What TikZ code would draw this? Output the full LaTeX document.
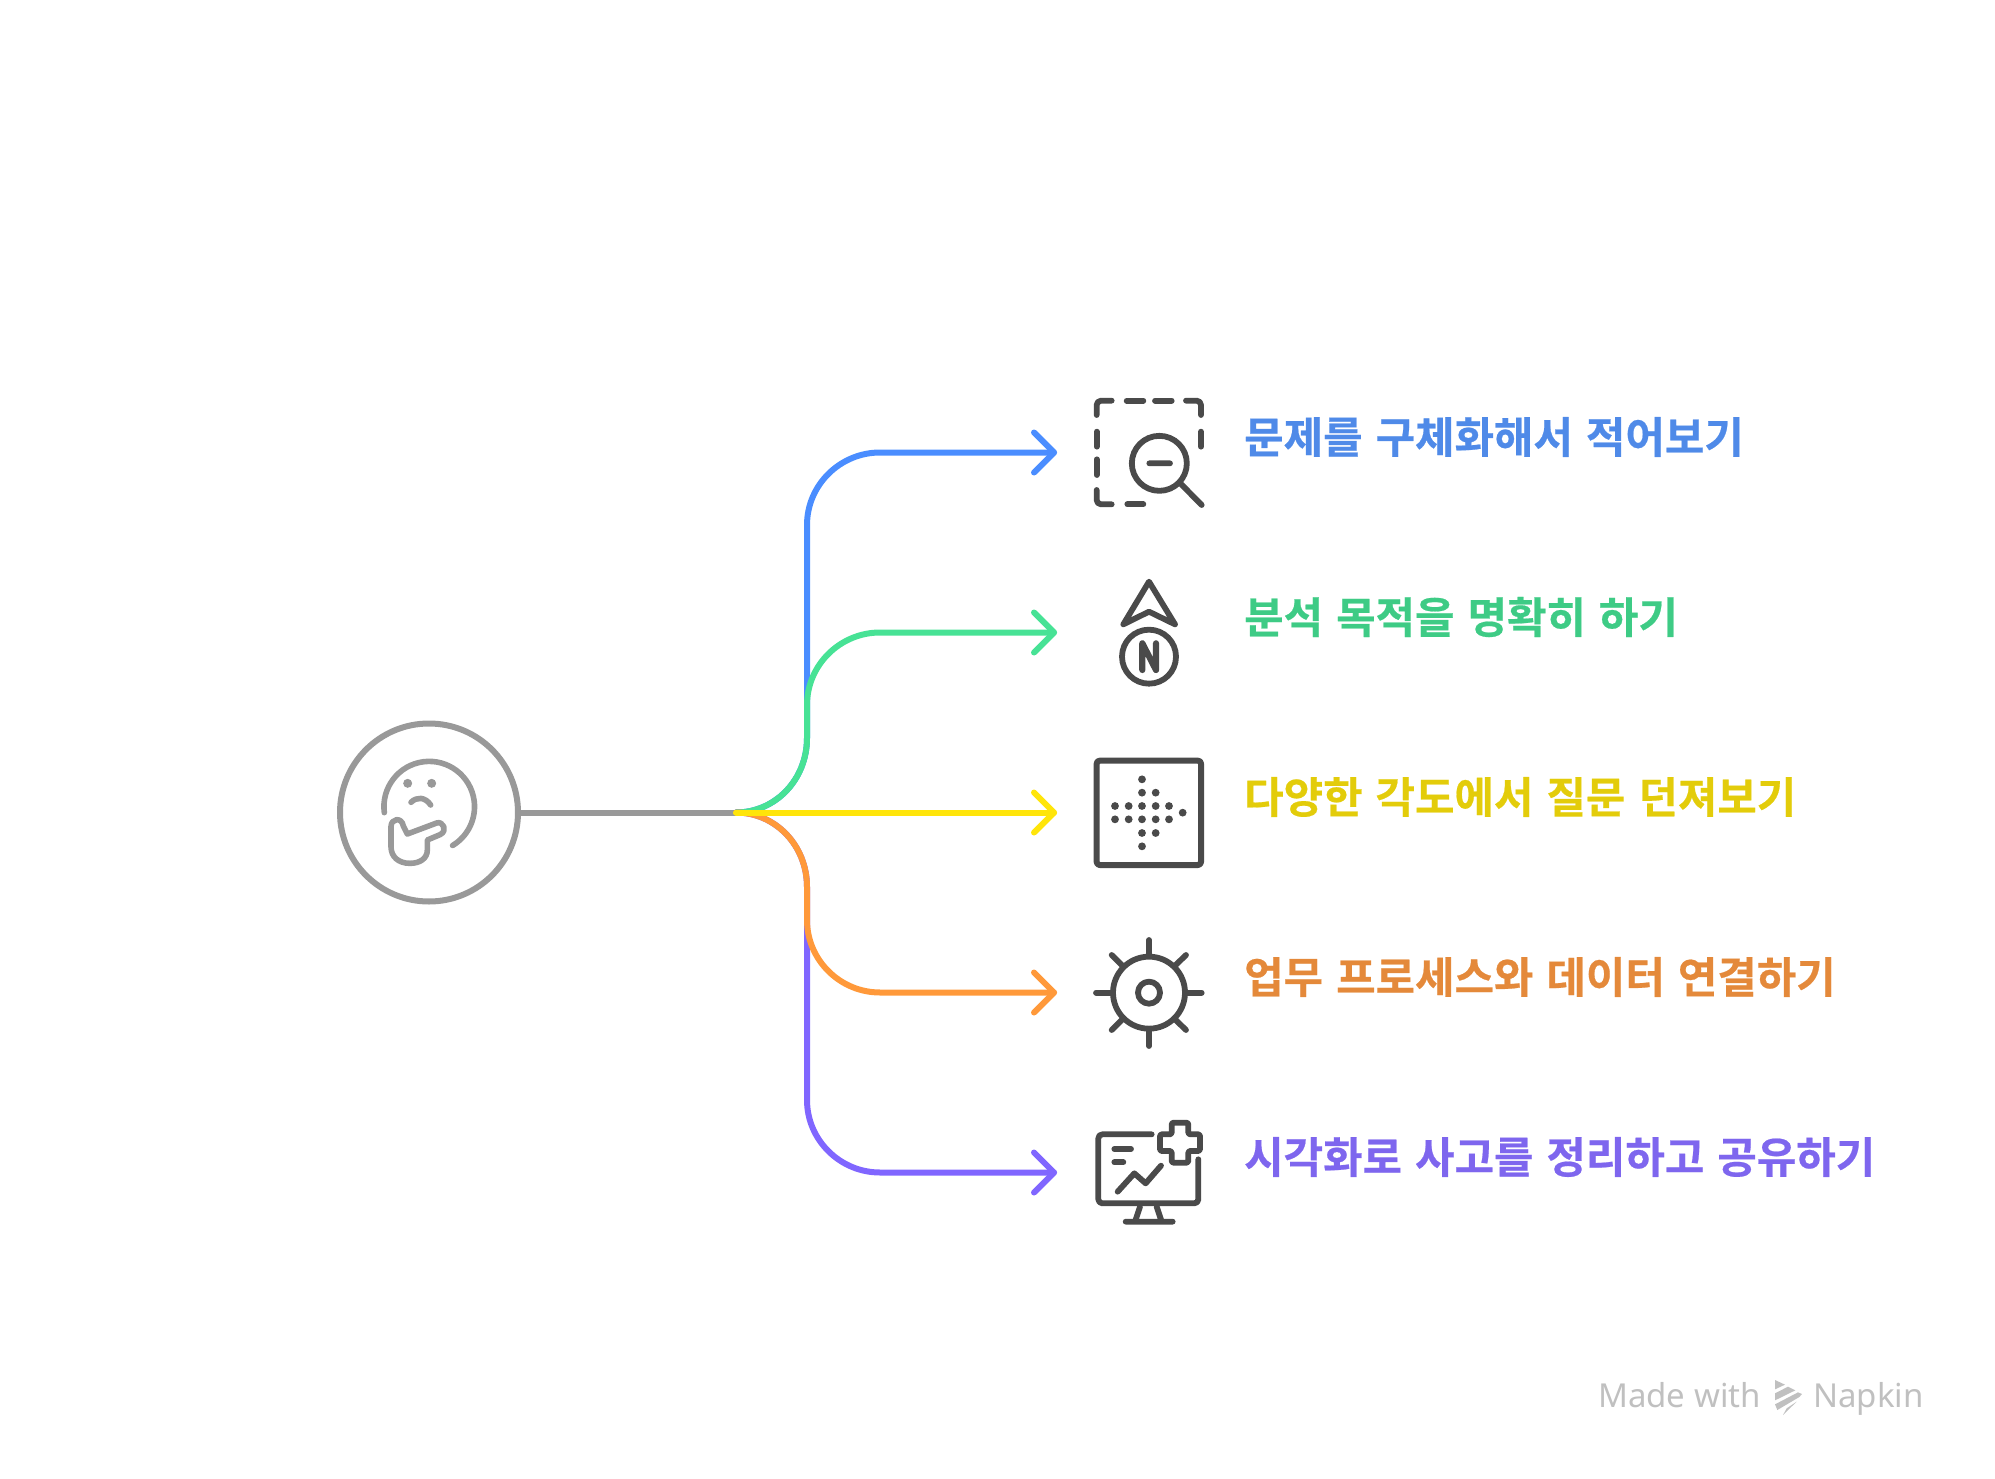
\documentclass[tikz,border=0pt]{standalone}
\usepackage{fontspec}
\setmainfont{Noto Sans}
\newfontfamily\krfont[FakeBold=0.5]{Noto Sans CJK KR Bold}
\newcommand{\krlabel}{\krfont\fontsize{42.9}{42.9}\selectfont\spaceskip=13pt\relax}
\definecolor{cgray}{HTML}{999999}
\definecolor{cicon}{HTML}{4A4A4A}
\definecolor{cblue}{HTML}{4A8DFF}
\definecolor{cgreen}{HTML}{47E295}
\definecolor{cyellow}{HTML}{FFE50A}
\definecolor{corange}{HTML}{FF993A}
\definecolor{cviolet}{HTML}{8066FF}
\definecolor{tblue}{HTML}{4F8AE8}
\definecolor{tgreen}{HTML}{3ECB85}
\definecolor{tyellow}{HTML}{E3CC0A}
\definecolor{torange}{HTML}{E4893A}
\definecolor{tviolet}{HTML}{7E66EE}
\definecolor{cmark}{HTML}{C0C0C0}
\tikzset{
 link/.style={line width=6pt,line cap=round,line join=round},
 ico/.style={draw=cicon,line width=5.8pt,line cap=round,line join=round},
 face/.style={draw=cgray,line width=5.6pt,line cap=round,line join=round},
 lbl/.style={anchor=west,inner sep=0pt,font=\krlabel},
 crop/.style={x=0.33333pt,y=-0.33333pt},
}
\newcommand{\branch}[3]{%
 \draw[link,draw=#1] (hub) #2 -- (#3);
 \draw[link,draw=#1] ($(#3)+(-20,-20)$) -- (#3) -- ($(#3)+(-20,20)$);}
\usetikzlibrary{calc}
\begin{document}
\begin{tikzpicture}[x=1pt,y=-1pt]
\useasboundingbox (0,0) rectangle (1995,1479);
\node[circle,draw=cgray,line width=6pt,minimum size=178pt,inner sep=0pt] (src) at (429,812.5) {};
\coordinate (hub) at (736,812.5);
\coordinate (t1) at (1054,452.5);
\coordinate (t2) at (1054,632.5);
\coordinate (t3) at (1054,812.5);
\coordinate (t4) at (1054,992.5);
\coordinate (t5) at (1054,1172.5);
\draw[line width=6pt,draw=cgray] (src.east) -- (hub);
\branch{cblue}{.. controls (775,812.5) and (807,780) .. (807,738) -- (807,525) .. controls (807,485) and (840,452.5) .. (880,452.5)}{t1}
\branch{cviolet}{.. controls (775,812.5) and (807,845) .. (807,887) -- (807,1100) .. controls (807,1140) and (840,1172.5) .. (880,1172.5)}{t5}
\branch{cgreen}{.. controls (775,812.5) and (807,780) .. (807,738) -- (807,705) .. controls (807,665) and (840,632.5) .. (880,632.5)}{t2}
\branch{corange}{.. controls (775,812.5) and (807,845) .. (807,887) -- (807,920) .. controls (807,960) and (840,992.5) .. (880,992.5)}{t4}
\branch{cyellow}{}{t3}
% face
\begin{scope}[shift={(320,700)},crop]
\draw[face] (193,338) arc[start angle=187.6,end angle=-59,radius=45.3pt];
\fill[cgray] (263,250) circle[radius=4.5pt] (335,250) circle[radius=4.5pt];
\draw[face] (273,307) .. controls (290,290) and (315,290) .. (332,315);
\draw[face] (262,402) -- (350,369) .. controls (368,362) and (385,392) .. (360,404) -- (322,420) -- (322,450)
  .. controls (322,475) and (300,490) .. (270,490) .. controls (235,490) and (213,470) .. (213,440) -- (213,380)
  .. controls (213,355) and (245,350) .. (250,378) -- cycle;
\end{scope}
% icon 1
\begin{scope}[shift={(1080,380)},crop]
\draw[ico] (50,105) -- (50,75) arc[start angle=180,end angle=90,radius=4.3pt] -- (95,62);
\draw[ico] (140,62) -- (190,62) (225,62) -- (275,62);
\draw[ico] (318,62) -- (350,62) arc[start angle=90,end angle=0,radius=4.3pt] -- (363,105);
\draw[ico] (363,155) -- (363,200) (50,155) -- (50,200) (50,238) -- (50,285);
\draw[ico] (50,330) -- (50,360) arc[start angle=180,end angle=270,radius=4.3pt] -- (95,373);
\draw[ico] (142,373) -- (190,373);
\draw[ico] (238,250) circle[radius=27.5pt];
\draw[ico] (208,250) -- (270,250) (303,312) -- (365,375);
\end{scope}
% icon 2
\begin{scope}[shift={(1080,380)},crop]
\draw[ico] (207,605) -- (285,733) -- (207,695) -- (130,733) -- cycle;
\draw[ico] (207,830) circle[radius=27pt];
\draw[ico,line width=6.2pt] (187,870) -- (187,790) -- (228,870) -- (228,790);
\end{scope}
% icon 3
\begin{scope}[shift={(1080,740)},crop]
\draw[ico,rounded corners=3pt,line width=6pt] (50,62) rectangle (363,375);
\foreach \p in {(186,118),(186,158),(227,158),(105,198),(146,198),(186,198),(227,198),(267,198),
  (105,238),(146,238),(186,238),(227,238),(267,238),(308,218),(186,279),(227,279),(186,319)}
  \fill[cicon] \p circle[radius=3.9pt];
\end{scope}
% icon 4
\begin{scope}[shift={(1080,920)},crop]
\draw[ico] (207,218) circle[radius=36pt];
\draw[ico] (207,218) circle[radius=11pt];
\draw[ico] (207,60) -- (207,105) (207,331) -- (207,378) (48,218) -- (95,218) (320,218) -- (365,218);
\draw[ico] (95,105) -- (127,137) (318,105) -- (285,137) (95,330) -- (127,298) (318,330) -- (285,298);
\end{scope}
% icon 5
\begin{scope}[shift={(1080,920)},crop]
\draw[ico,rounded corners=4pt] (215,643) -- (55,643) -- (55,850) -- (355,850) -- (355,718);
\draw[ico] (103,687) -- (153,687) (103,727) -- (130,727);
\draw[ico] (113,815) -- (163,760) -- (197,790) -- (243,737);
\draw[ico,rounded corners=1.5pt] (275,608) -- (325,608) -- (325,643) -- (360,643) -- (360,693) -- (325,693) -- (325,728) -- (275,728) -- (275,693) -- (240,693) -- (240,643) -- (275,643) -- cycle;
\draw[ico] (180,860) -- (165,905) (230,860) -- (245,905) (137,905) -- (278,905);
\end{scope}
% labels
\node[lbl,text=tblue] (l1) at (1244,437) {문제를 구체화해서 적어보기};
\node[lbl,text=tgreen] (l2) at (1244,617) {분석 목적을 명확히 하기};
\node[lbl,text=tyellow] (l3) at (1244,797) {다양한 각도에서 질문 던져보기};
\node[lbl,text=torange] (l4) at (1244,977) {업무 프로세스와 데이터 연결하기};
\node[lbl,text=tviolet] (l5) at (1244,1157) {시각화로 사고를 정리하고 공유하기};
% watermark
\node[anchor=base west,inner sep=0pt,text=cmark,font=\fontsize{33}{33}\selectfont] (m1) at (1598,1407) {Made with};
\begin{scope}[shift={(1760,1375)},crop]
\fill[cmark] (45,15) -- (75,29) -- (45,43) -- cycle;
\fill[cmark] (45,55) -- (84,35) -- (106,46) -- (45,76) -- cycle;
\fill[cmark] (45,88) -- (114,52) -- (126,57) -- (118,66) -- (52,105) -- cycle;
\fill[cmark] (69,120) -- (80,100) -- (110,80) -- cycle;
\end{scope}
\node[anchor=base west,inner sep=0pt,text=cmark,font=\fontsize{33}{33}\selectfont] (m2) at (1813,1407) {Napkin};
\end{tikzpicture}
\end{document}
